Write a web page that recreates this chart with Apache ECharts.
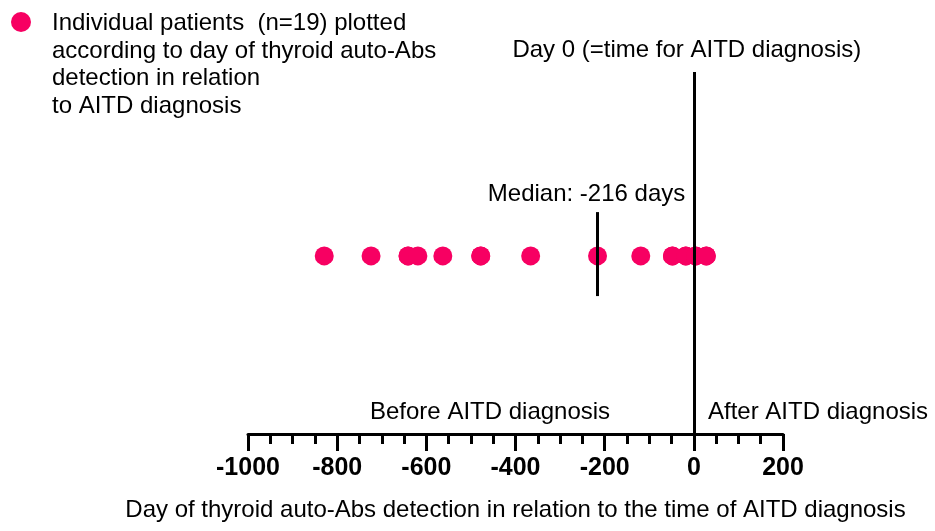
<!DOCTYPE html>
<html lang="en">
<head>
    <meta charset="UTF-8">
    <title>AITD</title>
    <script src="https://cdn.jsdelivr.net/npm/echarts@6/dist/echarts.min.js"></script>
    <style>
        html, body { margin: 0; padding: 0; background: #fff; }
        #chart { width: 935px; height: 531px; }
    </style>
</head>
<body>
<div id="chart"></div>
<script>
    // days of thyroid auto-Abs detection relative to AITD diagnosis (n=19)
    var days = [-829, -724, -641, -641, -619, -563, -478, -478, -366, -216,
                -119, -48, -48, -18, -18, 4, 4, 28, 28];
    var median = -216;
    var tickValues = [-1000, -800, -600, -400, -200, 0, 200];

    var FONT = 'Liberation Sans';
    var PINK = '#f70062';

    var myChart = echarts.init(document.getElementById('chart'));

    var points = [];
    for (var i = 0; i < days.length; i++) {
        points.push([days[i], 0.492]);
    }

    var option = {
        animation: false,
        textStyle: { fontFamily: FONT },
        grid: { left: 248, right: 152, top: 72, bottom: 97 },
        xAxis: {
            type: 'value',
            min: tickValues[0],
            max: tickValues[tickValues.length - 1],
            interval: 200,
            splitLine: { show: false },
            axisLine: { show: true, lineStyle: { color: '#000', width: 3 } },
            axisTick: { show: true, length: 17, lineStyle: { color: '#000', width: 3 } },
            minorTick: { show: true, splitNumber: 4, length: 10, lineStyle: { color: '#000', width: 3 } },
            axisLabel: {
                color: '#000', fontSize: 25, fontWeight: 'bold', margin: 22, fontFamily: FONT,
                formatter: function (v) { return String(v); }
            },
            name: 'Day of thyroid auto-Abs detection in relation to the time of AITD diagnosis',
            nameLocation: 'middle',
            nameGap: 64,
            nameTextStyle: { color: '#000', fontSize: 24, fontFamily: FONT }
        },
        yAxis: {
            type: 'value', min: 0, max: 1, show: false
        },
        series: [{
            type: 'scatter',
            data: points,
            symbolSize: 19,
            itemStyle: { color: PINK, opacity: 1 },
            z: 3,
            markLine: {
                silent: true,
                symbol: 'none',
                lineStyle: { color: '#000', width: 3, type: 'solid' },
                label: { show: true, position: 'end', color: '#000', fontSize: 24, fontFamily: FONT },
                data: [
                    [{ coord: [0, 0], label: { formatter: 'Day 0 (=time for AITD diagnosis)', distance: 10, offset: [-7, 0] } },
                     { coord: [0, 1] }],
                    [{ coord: [median, 0.381], label: { formatter: 'Median: -216 days', distance: 6, offset: [-11, 0] } },
                     { coord: [median, 0.613] }]
                ]
            }
        }],
        graphic: [
            { type: 'circle', shape: { cx: 21, cy: 22, r: 10 }, style: { fill: PINK } },
            { type: 'text', left: 52, top: 10,
              style: { text: 'Individual patients  (n=19) plotted\naccording to day of thyroid auto-Abs\ndetection in relation\nto AITD diagnosis',
                       font: '24px ' + FONT, fill: '#000', lineHeight: 27.5 } },
            { type: 'text', left: 370, top: 400,
              style: { text: 'Before AITD diagnosis', font: '24px ' + FONT, fill: '#000' } },
            { type: 'text', left: 708, top: 400,
              style: { text: 'After AITD diagnosis', font: '24px ' + FONT, fill: '#000' } }
        ]
    };

    myChart.setOption(option);

    window.onresize = function () {
        myChart.resize();
    };
</script>
</body>
</html>
